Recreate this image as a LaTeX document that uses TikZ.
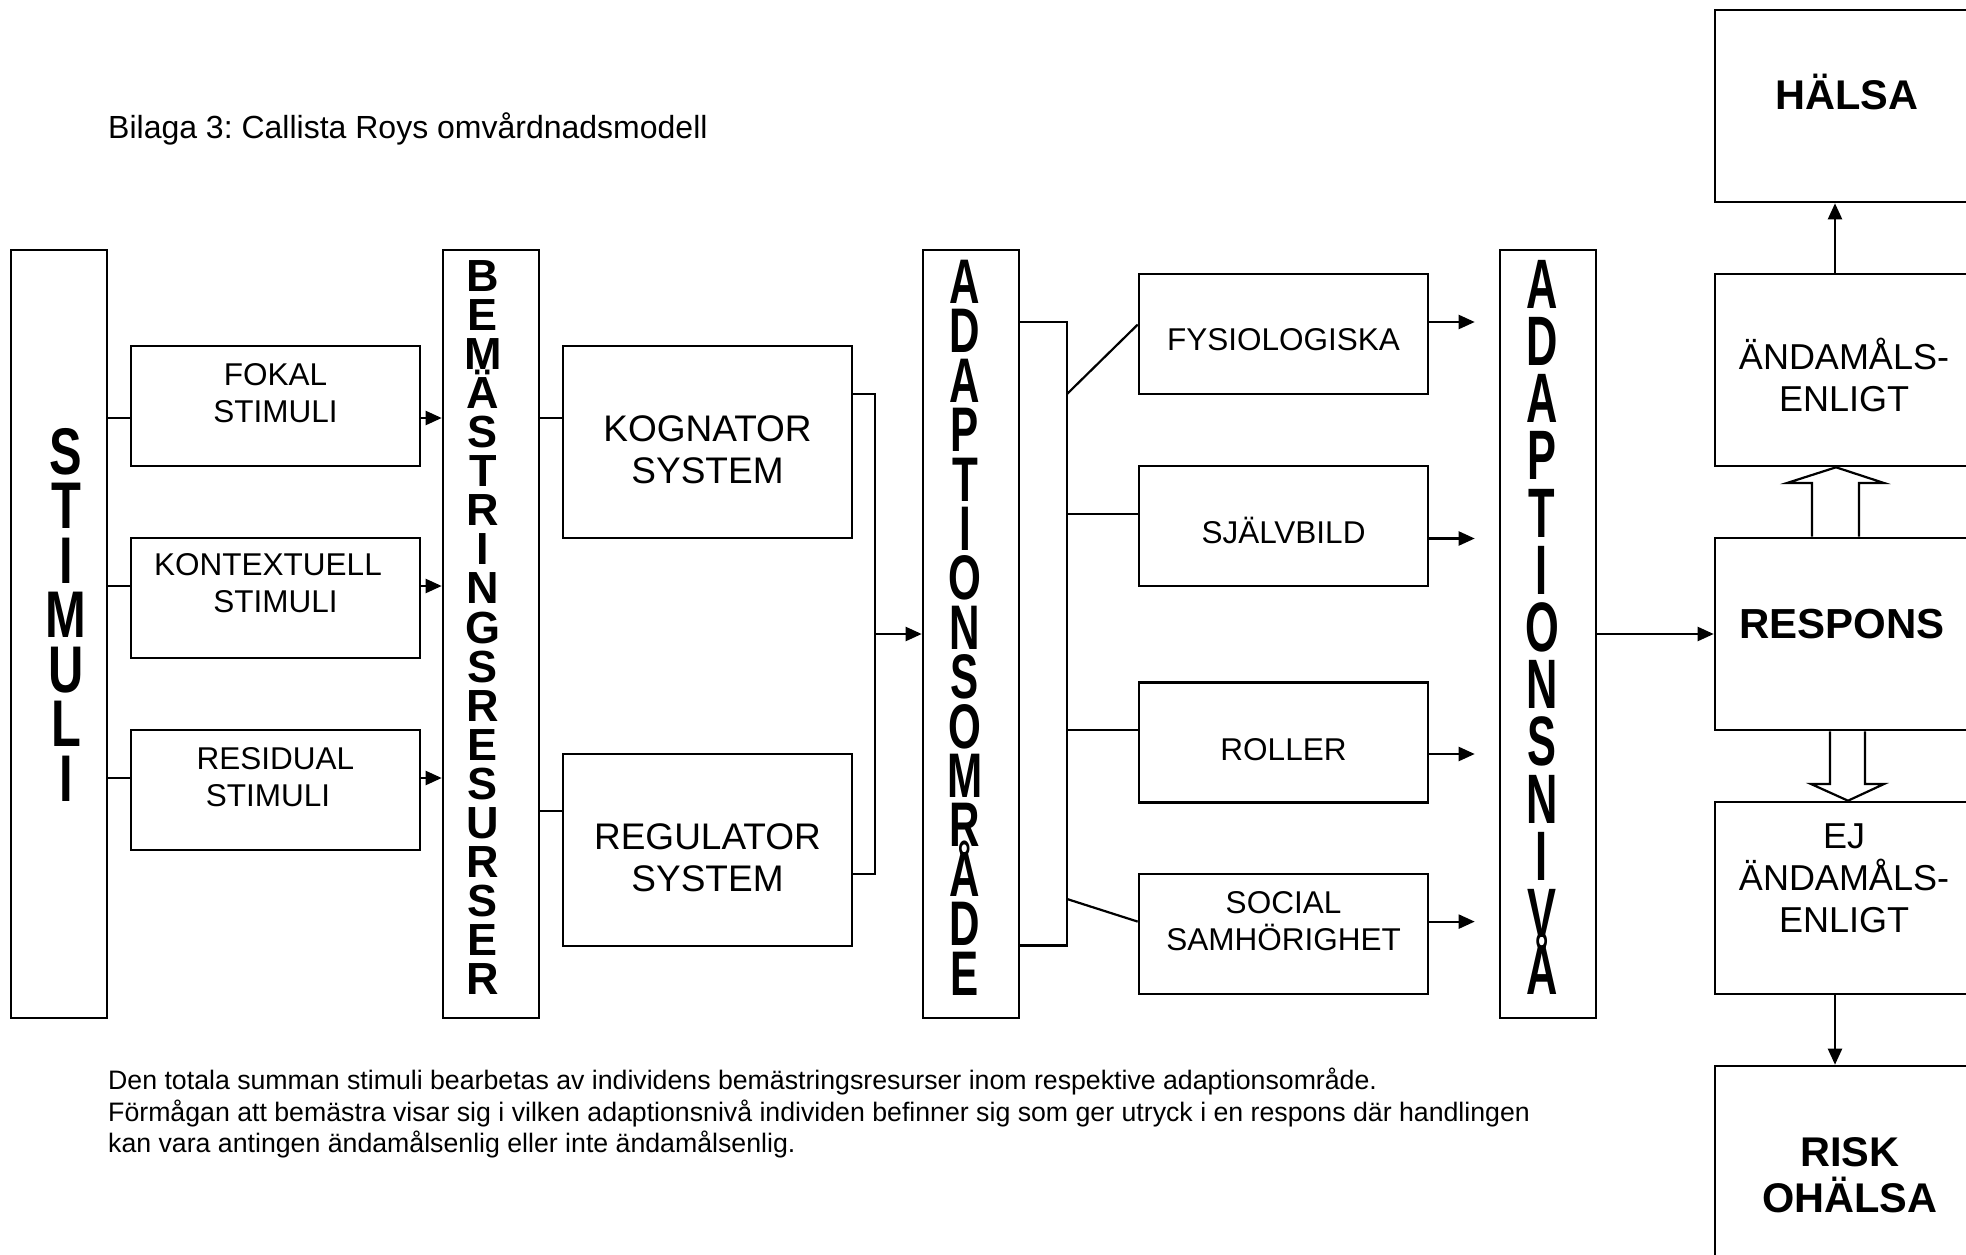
\documentclass[tikz,border=0pt]{standalone}
\usepackage{fontspec}
\setmainfont{Liberation Sans}
\usetikzlibrary{arrows.meta,calc}
\frenchspacing

% letters of a word stacked on top of each other, baselineskip from the font
\newcommand{\vword}[1]{\vbox{\lineskiplimit=-\maxdimen\lineskip=0pt\halign{\hfil##\hfil\cr#1\crcr}}}

\begin{document}
\begin{tikzpicture}[x=1pt,y=-1pt]
                \tikzstyle{box}=[draw, line width=2.6pt, inner sep=0pt, minimum width=289pt, minimum height=120pt]
                \tikzstyle{midbox}=[box, minimum height=192pt]
                \tikzstyle{tallbox}=[draw, line width=2.6pt, inner sep=0pt, minimum width=96pt, minimum height=768pt]
                \tikzstyle{rbox}=[draw, line width=2.6pt, inner sep=0pt, minimum width=258pt, minimum height=192pt]
                \tikzstyle{line}=[line width=2.2pt]
                \tikzstyle{arr}=[line width=2.2pt, -{Triangle[length=16pt,width=14pt]}]
                \tikzstyle{hollow}=[line width=2.2pt, line join=miter]
                \tikzstyle{lbl}=[align=center, inner sep=0pt, font=\fontsize{31.5}{37}\selectfont]
                \tikzstyle{biglbl}=[align=center, inner sep=0pt, font=\fontsize{37}{42}\selectfont]
                \tikzstyle{rlbl}=[align=center, inner sep=0pt, font=\fontsize{36}{42}\selectfont]
                \tikzstyle{boldlbl}=[align=center, inner sep=0pt, font=\fontsize{41.5}{46.6}\selectfont\bfseries]
                \tikzstyle{stack}=[anchor=north, inner sep=0pt]

                \useasboundingbox (0,0) rectangle (1966,1255);
                \fill[white] (0,0) rectangle (1966,1255);
                \clip (0,0) rectangle (1966,1255);

                \node[anchor=base west, inner sep=0pt, font=\fontsize{32}{38}\selectfont] (title) at (108,139) {Bilaga 3: Callista Roys omvårdnadsmodell};

                % tall columns
                \node[tallbox] (stimuli) at (59,634) {};
                \node[tallbox] (bem) at (491,634) {};
                \node[tallbox] (omrade) at (971,634) {};
                \node[tallbox] (niva) at (1548,634) {};

                \node[stack, font=\fontsize{66}{54.5}\selectfont\bfseries] (stimulitext) at (66,428)
                    {\scalebox{0.74}[1]{\vword{S\cr T\cr I\cr M\cr U\cr L\cr I}}};
                \node[stack, font=\fontsize{45}{39.1}\selectfont\bfseries] (bemtext) at (483,260)
                    {\vword{B\cr E\cr M\cr Ä\cr S\cr T\cr R\cr I\cr N\cr G\cr S\cr R\cr E\cr S\cr U\cr R\cr S\cr E\cr R}};
                \node[stack, font=\fontsize{63}{49.4}\selectfont\bfseries] (omradetext) at (965,260)
                    {\scalebox{0.67}[1]{\vword{A\cr D\cr A\cr P\cr T\cr I\cr O\cr N\cr S\cr O\cr M\cr R\cr Å\cr D\cr E}}};
                \node[stack, font=\fontsize{70}{57.2}\selectfont\bfseries] (nivatext) at (1542,260)
                    {\scalebox{0.62}[1]{\vword{A\cr D\cr A\cr P\cr T\cr I\cr O\cr N\cr S\cr N\cr I\cr V\cr Å}}};

                % stimuli
                \node[box] (fokal) at (275.5,406) {};
                \node[box] (kontext) at (275.5,598) {};
                \node[box] (residual) at (275.5,790) {};
                \node[lbl, anchor=south] (fokaltext) at (275.5,423) {FOKAL\\STIMULI};
                \node[lbl, anchor=south] (kontexttext) at (275.5,613) {KONTEXTUELL\hspace*{15pt}\\STIMULI};
                \node[lbl, anchor=south] (residualtext) at (275.5,807) {RESIDUAL\\STIMULI\hspace*{15pt}};

                \coordinate (s1) at (0,418);
                \coordinate (s2) at (0,586);
                \coordinate (s3) at (0,778);
                \draw[line] (stimuli.east |- s1) -- (fokal.west |- s1);
                \draw[line] (stimuli.east |- s2) -- (kontext.west |- s2);
                \draw[line] (stimuli.east |- s3) -- (residual.west |- s3);
                \draw[arr] (fokal.east |- s1) -- (bem.west |- s1);
                \draw[arr] (kontext.east |- s2) -- (bem.west |- s2);
                \draw[arr] (residual.east |- s3) -- (bem.west |- s3);

                % kognator / regulator
                \node[midbox] (kognator) at (707.5,442) {};
                \node[midbox] (regulator) at (707.5,850) {};
                \node[biglbl, anchor=south] (kognatortext) at (707.5,484) {KOGNATOR\\SYSTEM};
                \node[biglbl, anchor=south] (regulatortext) at (707.5,892) {REGULATOR\\SYSTEM};

                \draw[line] (bem.east |- s1) -- (kognator.west |- s1);
                \draw[line] (bem.east |- 0,811) -- (regulator.west |- 0,811);
                \coordinate (join) at (875,634);
                \draw[line] (kognator.east |- 0,394) -| (join);
                \draw[line] (regulator.east |- 0,874) -| (join);
                \draw[arr] (join) -- (omrade.west |- join);

                % adaptionsomraden
                \node[box] (fysio) at (1283.5,334) {};
                \node[box] (sjalv) at (1283.5,526) {};
                \node[box] (roller) at (1283.5,742.5) {};
                \node[box] (social) at (1283.5,934) {};
                \node[lbl, anchor=base] (fysiotext) at (1283.5,350.4) {FYSIOLOGISKA};
                \node[lbl, anchor=base] (sjalvtext) at (1283.5,543.5) {SJÄLVBILD};
                \node[lbl, anchor=base] (rollertext) at (1283.5,760) {ROLLER};
                \node[lbl, anchor=south] (socialtext) at (1283.5,951.4) {SOCIAL\\SAMHÖRIGHET};

                \coordinate (bt) at (1067,322);
                \coordinate (bb) at (1067,945.5);
                \draw[line] (omrade.east |- bt) -- (bt) -- (bb) -- (omrade.east |- bb);
                \draw[line] (1067,394) -- (fysio.west |- 0,324.6);
                \draw[line] (1067,513.6) -- (sjalv.west |- 0,513.6);
                \draw[line] (1067,730) -- (roller.west |- 0,730);
                \draw[line] (1067,899) -- (social.west |- 0,921.6);

                \draw[arr, shorten >=24pt] (fysio.east |- 0,322) -- (niva.west |- 0,322);
                \draw[arr, shorten >=24pt] (sjalv.east |- 0,538.5) -- (niva.west |- 0,538.5);
                \draw[arr, shorten >=24pt] (roller.east |- 0,754) -- (niva.west |- 0,754);
                \draw[arr, shorten >=24pt] (social.east |- 0,921.6) -- (niva.west |- 0,921.6);

                % respons
                \node[rbox] (halsa) at (1844,106) {};
                \node[rbox] (andamal) at (1844,370) {};
                \node[rbox] (respons) at (1844,634) {};
                \node[rbox] (ejandamal) at (1844,898) {};
                \node[rbox] (risk) at (1844,1162) {};
                \node[boldlbl, anchor=base] (halsatext) at (1847,110) {HÄLSA};
                \node[rlbl, anchor=south] (andamaltext) at (1844,411.6) {ÄNDAMÅLS-\\ENLIGT};
                \node[boldlbl, anchor=base, font=\fontsize{42}{46}\selectfont\bfseries] (responstext) at (1842,638) {RESPONS};
                \node[rlbl, anchor=south] (ejandamaltext) at (1844,933) {EJ\\ÄNDAMÅLS-\\ENLIGT};
                \node[boldlbl, anchor=south] (risktext) at (1849.7,1213.3) {RISK\\OHÄLSA};

                \draw[arr] (niva.east) -- (respons.west);
                \draw[arr] (andamal.north -| 1835,0) -- (halsa.south -| 1835,0);
                \draw[arr] (ejandamal.south -| 1835,0) -- (risk.north -| 1835,0);
                \draw[hollow] (1812,0 |- respons.north) -- (1812,483) -- (1787,483) -- (1836,0 |- andamal.south)
                    -- (1884,483) -- (1859,483) -- (1859,0 |- respons.north);
                \draw[hollow] (1830,0 |- respons.south) -- (1830,784) -- (1811,784) -- (1848,0 |- ejandamal.north)
                    -- (1884,784) -- (1865,784) -- (1865,0 |- respons.south);

                \node[anchor=north west, align=left, inner sep=0pt, font=\fontsize{26.7}{31.5}\selectfont] (caption) at (108,1068)
                    {Den totala summan stimuli bearbetas av individens bemästringsresurser inom respektive adaptionsområde.\\
                     Förmågan att bemästra visar sig i vilken adaptionsnivå individen befinner sig som ger utryck i en respons där handlingen\\
                     kan vara antingen ändamålsenlig eller inte ändamålsenlig.};

\end{tikzpicture}
\end{document}
